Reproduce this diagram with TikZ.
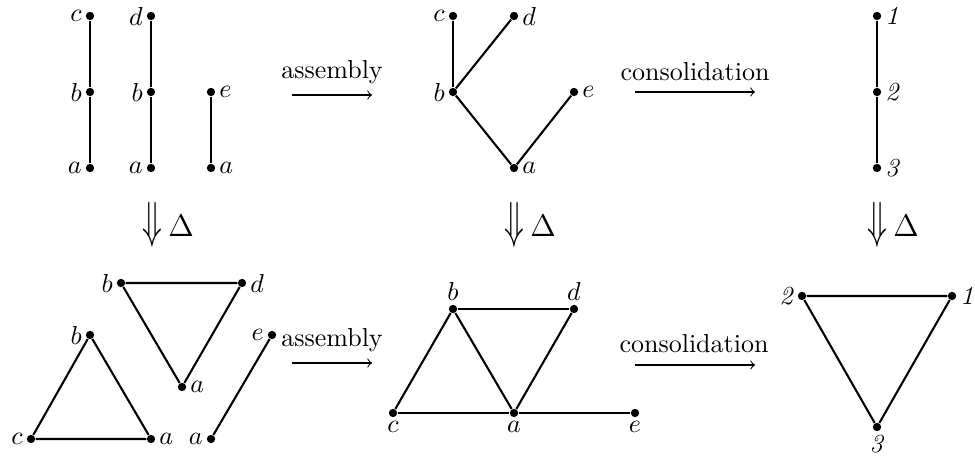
\documentclass[tikz,border=0pt]{standalone}
\usepackage{graphicx}
\begin{document}
\begin{tikzpicture}[x=0.3846pt,y=-0.3846pt,
  dot/.style={circle,fill=black,inner sep=0pt,minimum size=3.2pt},
  every label/.style={inner sep=1.2pt},
  edge/.style={line width=0.8pt},
  maparrow/.style={->,line width=0.4pt},
  maptext/.style={anchor=base,inner sep=0pt},
  delta/.style={inner sep=0pt}]
\useasboundingbox (0,0) rectangle (975,460);
% ---- top left
\node[dot,label=left:$c$] (tc1) at (90,16) {};
\node[dot,label=left:$b$] (tb1) at (90,92) {};
\node[dot,label=left:$a$] (ta1) at (90,168) {};
\node[dot,label=left:$d$] (td2) at (151,16) {};
\node[dot,label=left:$b$] (tb2) at (151,92) {};
\node[dot,label=left:$a$] (ta2) at (151,168) {};
\node[dot,label=right:$e$] (te3) at (211,92) {};
\node[dot,label=right:$a$] (ta3) at (211,168) {};
\draw[edge] (tc1)--(tb1)--(ta1);
\draw[edge] (td2)--(tb2)--(ta2);
\draw[edge] (te3)--(ta3);
% ---- top arrows
\coordinate (tas) at (292,95); \coordinate (tae) at (372,95);
\draw[maparrow] (tas)--(tae);
\node[maptext] (tat) at (332,79) {assembly};
\coordinate (tcs) at (635,92); \coordinate (tce) at (755,92);
\draw[maparrow] (tcs)--(tce);
\node[maptext] (tct) at (695,81) {consolidation};
% ---- top middle
\node[dot,label=left:$c$] (tmc) at (453,16) {};
\node[dot,label=right:$d$] (tmd) at (514,16) {};
\node[dot,label=left:$b$] (tmb) at (453,92) {};
\node[dot,label=right:$e$] (tme) at (574,92) {};
\node[dot,label=right:$a$] (tma) at (514,168) {};
\draw[edge] (tmc)--(tmb);
\draw[edge] (tmd)--(tmb);
\draw[edge] (tmb)--(tma);
\draw[edge] (tme)--(tma);
% ---- top right
\node[dot,label=right:\textit{1}] (tr1) at (877,16) {};
\node[dot,label=right:\textit{2}] (tr2) at (877,92) {};
\node[dot,label=right:\textit{3}] (tr3) at (877,168) {};
\draw[edge] (tr1)--(tr2)--(tr3);
% ---- Delta arrows
\node[delta] (dl) at (152,225) {\scalebox{1.25}[1.95]{$\Downarrow$}};
\node[delta] (dlD) at (181,226) {\large$\Delta$};
\node[delta] (dm) at (514,225) {\scalebox{1.25}[1.95]{$\Downarrow$}};
\node[delta] (dmD) at (543,226) {\large$\Delta$};
\node[delta] (dr) at (877,225) {\scalebox{1.25}[1.95]{$\Downarrow$}};
\node[delta] (drD) at (906,226) {\large$\Delta$};
% ---- bottom left
\node[dot,label=left:$b$] (bb1) at (121,283) {};
\node[dot,label=right:$d$] (bd1) at (242,283) {};
\node[dot,label=right:$a$] (ba1) at (182,387) {};
\draw[edge] (bb1)--(bd1)--(ba1)--(bb1);
\node[dot,label=left:$b$] (bb2) at (90,335) {};
\node[dot,label=left:$c$] (bc2) at (31,439) {};
\node[dot,label=right:$a$] (ba2) at (151,439) {};
\draw[edge] (bb2)--(bc2)--(ba2)--(bb2);
\node[dot,label=left:$e$] (be3) at (272,335) {};
\node[dot,label=left:$a$] (ba3) at (211,439) {};
\draw[edge] (be3)--(ba3);
% ---- bottom arrows
\coordinate (bas) at (292,363); \coordinate (bae) at (372,363);
\draw[maparrow] (bas)--(bae);
\node[maptext] (bat) at (332,347) {assembly};
\coordinate (bcs) at (635,365); \coordinate (bce) at (755,365);
\draw[maparrow] (bcs)--(bce);
\node[maptext] (bct) at (694,353) {consolidation};
% ---- bottom middle
\node[dot,label=above:$b$] (bmb) at (453,309) {};
\node[dot,label=above:$d$] (bmd) at (574,309) {};
\node[dot,label=below:$c$] (bmc) at (393,413) {};
\node[dot,label=below:$a$] (bma) at (514,413) {};
\node[dot,label=below:$e$] (bme) at (635,413) {};
\draw[edge] (bmb)--(bmd);
\draw[edge] (bmb)--(bmc);
\draw[edge] (bmb)--(bma);
\draw[edge] (bmd)--(bma);
\draw[edge] (bmc)--(bma);
\draw[edge] (bma)--(bme);
% ---- bottom right
\node[dot,label=left:\textit{2}] (br2) at (802,296) {};
\node[dot,label=right:\textit{1}] (br1) at (952,296) {};
\node[dot,label=below:\textit{3}] (br3) at (877,427) {};
\draw[edge] (br2)--(br1)--(br3)--(br2);
\end{tikzpicture}
\end{document}
